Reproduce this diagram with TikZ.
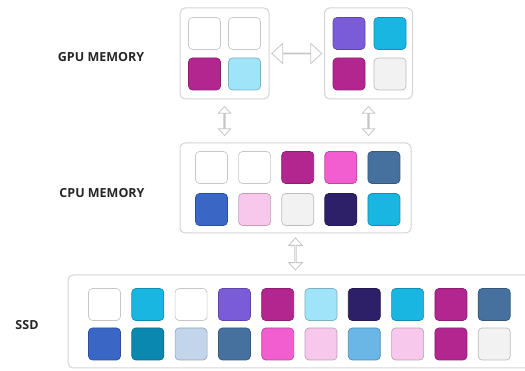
\documentclass[tikz,border=0pt]{standalone}
\usepackage{fontspec}
\setmainfont{Open Sans}
\usepackage{tikz}
\usetikzlibrary{shapes.arrows,positioning,calc}
\definecolor{boxline}{HTML}{D4D4D4}
\definecolor{arrowline}{HTML}{C6C6C6}
\definecolor{labeltext}{HTML}{262626}
\definecolor{plum}{HTML}{B4268F}
\definecolor{aqua}{HTML}{A0E4FA}
\definecolor{violet}{HTML}{7A5BD8}
\definecolor{cyan}{HTML}{19B6E1}
\definecolor{ash}{HTML}{F2F2F2}
\definecolor{pink}{HTML}{F25DCF}
\definecolor{steel}{HTML}{46709E}
\definecolor{royal}{HTML}{3A66C6}
\definecolor{blush}{HTML}{F8C8EC}
\definecolor{navy}{HTML}{2E2068}
\definecolor{teal}{HTML}{0A88B0}
\definecolor{mist}{HTML}{C2D5EA}
\definecolor{sky}{HTML}{6AB6E6}

\tikzset{
  memory/.style={draw=boxline, line width=1pt, fill=white, rounded corners=5pt, inner sep=0pt},
  cell/.style={fill=#1, draw=#1!78!black, line width=0.7pt, rounded corners=4pt, minimum size=32pt, inner sep=0pt},
  tag/.style={text=labeltext, font=\fontsize{12.5}{15}\selectfont\bfseries},
  hollow/.style={double arrow, draw=arrowline, fill=white, line width=0.8pt, inner sep=0pt,
    minimum height=#1, double arrow tip angle=85, double arrow head extend=3.5pt, minimum width=12.5pt}
}

\begin{document}
\begin{tikzpicture}[x=1pt,y=-1pt]
  \useasboundingbox (0,0) rectangle (525,371);

  % memory levels
  \node[memory, minimum width=89pt, minimum height=91pt] (gpu1) at (224.5,53.5) {};
  \node[memory, minimum width=88pt, minimum height=91pt] (gpu2) at (368.5,53.5) {};
  \node[memory, minimum width=231pt, minimum height=90pt] (cpu) at (295.5,188) {};
  \node[memory, minimum width=472pt, minimum height=93pt] (ssd) at (304,321.5) {};

  \node[tag] (gpulabel) at (101,57) {GPU MEMORY};
  \node[tag] (cpulabel) at (102,193) {CPU MEMORY};
  \node[tag] (ssdlabel) at (27,325) {SSD};

  % gpu blocks
  \foreach \c [count=\i from 0] in {white,white} \node[cell=\c] (g1a\i) at ({204.5+40*\i},33.5) {};
  \foreach \c [count=\i from 0] in {plum,aqua} \node[cell=\c] (g1b\i) at ({204.5+40*\i},74) {};
  \foreach \c [count=\i from 0] in {violet,cyan} \node[cell=\c] (g2a\i) at ({349+41*\i},33.5) {};
  \foreach \c [count=\i from 0] in {plum,ash} \node[cell=\c] (g2b\i) at ({349+41*\i},74) {};

  % cpu blocks
  \foreach \c [count=\i from 0] in {white,white,plum,pink,steel}
    \node[cell=\c] (ca\i) at ({211.5+43.1*\i},167.5) {};
  \foreach \c [count=\i from 0] in {royal,blush,ash,navy,cyan}
    \node[cell=\c] (cb\i) at ({211.5+43.1*\i},209.5) {};

  % ssd blocks
  \foreach \c [count=\i from 0] in {white,cyan,white,violet,plum,aqua,navy,cyan,plum,steel}
    \node[cell=\c] (sa\i) at ({104.5+43.3*\i},304.5) {};
  \foreach \c [count=\i from 0] in {royal,teal,mist,steel,pink,blush,sky,blush,plum,ash}
    \node[cell=\c] (sb\i) at ({104.5+43.3*\i},344) {};

  % transfers
  \node[hollow=50pt, double arrow head extend=6.5pt, minimum width=20pt] (swap) at ($(gpu1.east)!0.5!(gpu2.west)$) {};
  \node[hollow=29pt, rotate=90] (load1) at ($(gpu1.south)!0.5!(gpu1.south |- cpu.north)$) {};
  \node[hollow=29pt, rotate=90] (load2) at ($(gpu2.south)!0.5!(gpu2.south |- cpu.north)$) {};
  \node[hollow=32pt, rotate=90, minimum width=13.5pt] (load3) at ($(cpu.south)!0.5!(cpu.south |- ssd.north)$) {};
\end{tikzpicture}
\end{document}
